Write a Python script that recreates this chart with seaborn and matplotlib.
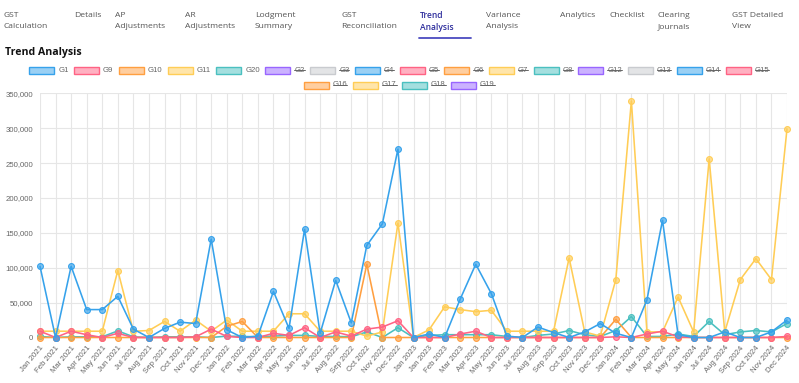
import matplotlib
matplotlib.use("Agg")
import numpy as np
import pandas as pd
import matplotlib.pyplot as plt
import seaborn as sns
from matplotlib.patches import Rectangle
from matplotlib.lines import Line2D
from matplotlib.ticker import FuncFormatter, MultipleLocator

# --- data ---
months = ["Jan 2021", "Feb 2021", "Mar 2021", "Apr 2021", "May 2021", "Jun 2021",
          "Jul 2021", "Aug 2021", "Sep 2021", "Oct 2021", "Nov 2021", "Dec 2021",
          "Jan 2022", "Feb 2022", "Mar 2022", "Apr 2022", "May 2022", "Jun 2022",
          "Jul 2022", "Aug 2022", "Sep 2022", "Oct 2022", "Nov 2022", "Dec 2022",
          "Jan 2023", "Jan 2023", "Feb 2023", "Mar 2023", "Apr 2023", "May 2023",
          "Jun 2023", "Jul 2023", "Aug 2023", "Sep 2023", "Oct 2023", "Nov 2023",
          "Dec 2023", "Jan 2024", "Feb 2024", "Mar 2024", "Apr 2024", "May 2024",
          "Jun 2024", "Jul 2024", "Aug 2024", "Sep 2024", "Oct 2024", "Nov 2024",
          "Dec 2024"]

g1 = [102000, 0, 102000, 40000, 40000, 59000, 12000, 0, 13000, 22000, 20000, 141000,
      11000, 0, 2000, 66000, 13000, 155000, 6000, 82000, 21000, 132000, 163000, 270000,
      0, 5000, 0, 55000, 105000, 63000, 2000, 0, 15000, 7000, 0, 8000,
      20000, 6000, 0, 54000, 168000, 4000, 0, 0, 8000, 0, 0, 8000, 25000]
g9 = [9000, 0, 9000, 4000, 0, 6000, 0, 0, 0, 0, 1000, 12000,
      1500, 0, 0, 6000, 3000, 14000, 0, 8000, 2000, 12000, 15000, 24000,
      0, 0, 0, 5000, 9000, 0, 0, 0, 0, 0, 0, 0,
      0, 1000, 0, 5000, 9000, 1000, 0, 0, 0, 0, 0, 0, 1500]
g10 = [0, 0, 0, 0, 0, 0, 0, 0, 0, 0, 0, 0,
       16000, 23000, 0, 0, 0, 0, 0, 0, 0, 105000, 0, 0,
       0, 0, 0, 0, 0, 0, 0, 0, 0, 0, 0, 0,
       0, 26000, 0, 0, 0, 0, 0, 0, 0, 0, 0, 0, 0]
g11 = [9000, 9000, 9000, 9000, 9000, 96000, 9000, 10000, 23000, 9000, 25000, 9000,
       25000, 9000, 9000, 9000, 34000, 34000, 9000, 9000, 9000, 2000, 8000, 164000,
       0, 11000, 44000, 40000, 37000, 39000, 9000, 9000, 9000, 9000, 114000, 8000,
       2000, 83000, 339000, 8000, 8000, 58000, 8000, 256000, 8000, 83000, 113000, 83000, 299000]
g20 = [1500, 0, 1000, 1000, 1000, 9500, 1000, 0, 1000, 1000, 1000, 0,
       2000, 1500, 1000, 2000, 3000, 3000, 1500, 1500, 1000, 8000, 0, 14000,
       0, 3000, 4000, 4000, 4000, 4000, 1500, 0, 3000, 5000, 10000, 4000,
       1500, 10000, 30000, 1500, 1500, 5000, 1500, 23000, 4000, 8000, 10000, 8000, 20000]

visible_names = ["G1", "G9", "G10", "G11", "G20"]
hidden_names = ["G2", "G3", "G4", "G5", "G6", "G7", "G8", "G12", "G13",
                "G14", "G15", "G16", "G17", "G18", "G19"]

tab_lines = [("GST", "Calculation"), ("Details", ""), ("AP", "Adjustments"),
             ("AR", "Adjustments"), ("Lodgment", "Summary"), ("GST", "Reconciliation"),
             ("Trend", "Analysis"), ("Variance", "Analysis"), ("Analytics", ""),
             ("Checklist", ""), ("Clearing", "Journals"), ("GST Detailed", "View")]
active_tab = "Trend"

# chart.js default colour cycle
cjs = [(54, 162, 235), (255, 99, 132), (255, 159, 64), (255, 205, 86),
       (75, 192, 192), (153, 102, 255), (201, 203, 207)]
cjs = [tuple(v / 255 for v in c) for c in cjs]

W, H = 799, 383


def fx(x):
    return x / W


def fy(y):
    return 1 - y / H


sns.set_style("white")
plt.rcParams["font.family"] = ["Liberation Sans", "DejaVu Sans"]

df = pd.DataFrame({"idx": np.arange(len(months)), "month": months,
                   "G1": g1, "G9": g9, "G10": g10, "G11": g11, "G20": g20})
long_df = df.melt(id_vars=["idx", "month"], var_name="series", value_name="amount")

fig = plt.figure(figsize=(W / 100, H / 100), dpi=100)
ax = fig.add_axes([fx(40), fy(337.5), (787 - 40) / W, (337.5 - 93.3) / H])

all_names = visible_names + hidden_names
colour_of = {n: cjs[i % len(cjs)] for i, n in enumerate(all_names)}

# first dataset ends up on top, like chart.js
for z, name in enumerate(reversed(visible_names)):
    c = colour_of[name]
    sub = long_df[long_df["series"] == name]
    sns.lineplot(data=sub, x="idx", y="amount", ax=ax, color=c, lw=1.15,
                 marker="o", markersize=4.2, markerfacecolor=(*c, 0.65),
                 markeredgecolor=c, markeredgewidth=0.8, legend=False, zorder=3 + z)
for ln in ax.lines:
    ln.set_clip_on(False)

ax.set_xlim(0, len(months) - 1)
ax.set_ylim(0, 350000)
ax.yaxis.set_major_locator(MultipleLocator(50000))
ax.yaxis.set_major_formatter(FuncFormatter(lambda v, p: f"{v:,.0f}"))
ax.set_xticks(np.arange(len(months)))
ax.set_xticklabels(months, rotation=50, ha="right", rotation_mode="anchor")
ax.tick_params(axis="both", labelsize=5.6, labelcolor="#666666", length=3,
               color="#e6e6e6", width=0.8, pad=2)
ax.grid(True, color="#e6e6e6", lw=0.8)
ax.set_axisbelow(True)
for s in ax.spines.values():
    s.set_visible(False)
ax.set_xlabel("")
ax.set_ylabel("")

# --- tab bar ---
tab_x = [4, 74, 115, 185, 255, 341, 420, 486, 560, 609, 658, 732]
for (l1, l2), x in zip(tab_lines, tab_x):
    act = l1 == active_tab
    kw = dict(fontsize=6.1, family=["Open Sans", "DejaVu Sans"],
              color="#2c2c9c" if act else "#555555",
              fontweight="semibold" if act else "normal", va="center", ha="left")
    fig.text(fx(x), fy(15.5), l1, **kw)
    if l2:
        fig.text(fx(x), fy(27), l2, **kw)
    if act:
        fig.add_artist(Line2D([fx(419), fx(471)], [fy(37.7), fy(37.7)],
                              color="#4b4bc0", lw=1.3))

fig.text(fx(5), fy(52), "Trend Analysis", fontsize=7.6, fontweight="bold",
         family=["Open Sans", "DejaVu Sans"], color="#111111", va="center", ha="left")

# --- legend (chart.js style, hidden datasets struck through) ---
renderer = fig.canvas.get_renderer()
box_w, box_h, gap_txt, gap_item = 25, 7, 4, 5.4
items = []
for n in all_names:
    t = fig.text(0, 0, n, fontsize=5.6, color="#666666", va="center", ha="left")
    tw = t.get_window_extent(renderer).width
    items.append((n, t, tw))

rows, cur, cur_w = [], [], 0
for it in items:
    w = box_w + gap_txt + it[2] + gap_item
    if cur and cur_w + w > 770:
        rows.append((cur, cur_w))
        cur, cur_w = [], 0
    cur.append(it)
    cur_w += w
rows.append((cur, cur_w))

row_y = [70.3, 85]
for (row, rw), yc in zip(rows, row_y):
    x = 402 - rw / 2
    for n, t, tw in row:
        c = colour_of[n]
        fig.add_artist(Rectangle((fx(x), fy(yc + box_h / 2)), box_w / W, box_h / H,
                                 facecolor=(*c, 0.5), edgecolor=c, lw=1))
        tx = x + box_w + gap_txt
        t.set_position((fx(tx), fy(yc)))
        if n in hidden_names:
            fig.add_artist(Line2D([fx(tx), fx(tx + tw)], [fy(yc), fy(yc)],
                                  color="#666666", lw=0.7))
        x += box_w + gap_txt + tw + gap_item

fig.savefig("out.png", dpi=100)
